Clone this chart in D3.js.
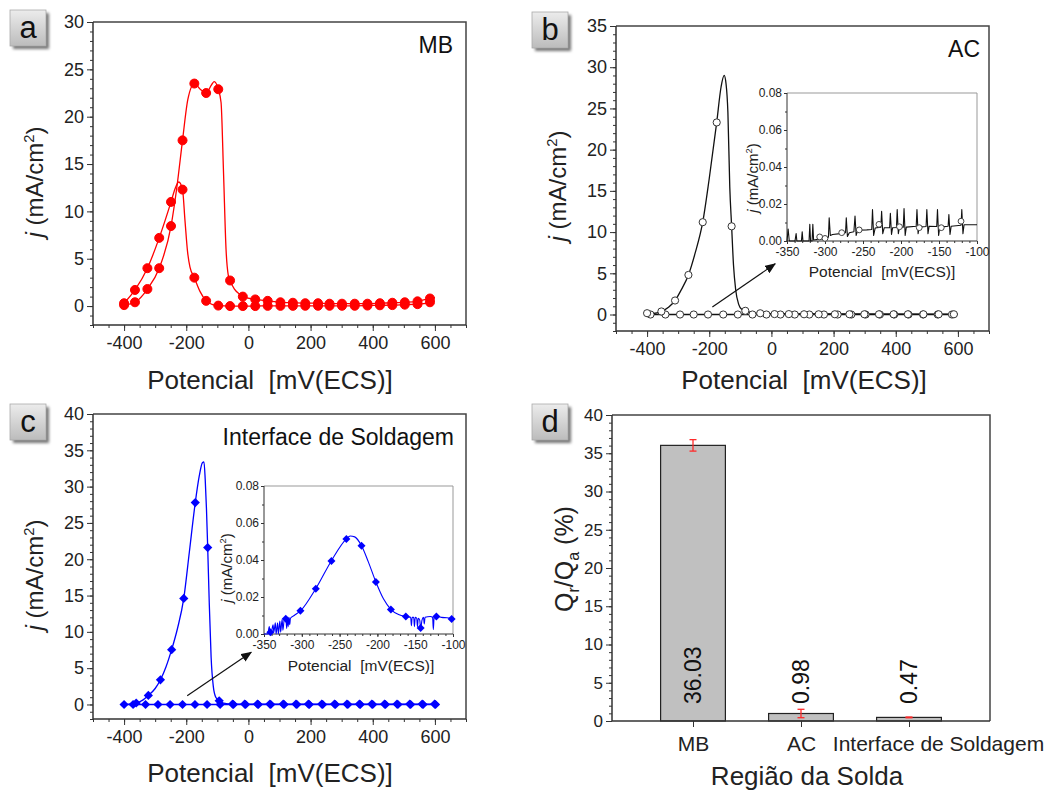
<!DOCTYPE html>
<html>
<head>
<meta charset="utf-8">
<script src="https://cdn.jsdelivr.net/npm/d3@7"></script>
<style>
body { margin: 0; background: #fff; }
svg { font-family: "Liberation Sans", Arial, sans-serif; }
</style>
</head>
<body>
<svg width="1051" height="793"></svg>
<script>
// values

// (a) MB - activation / reactivation loops, markers
var potA = [-400, -365, -325, -287, -249, -212, -174, -136, -97, -59, -18, 22, 62, 103, 143, 183, 224, 261, 301, 342, 383, 423, 463, 503, 544, 584];
var jActA = [0.1, 0.4, 1.8, 4.0, 8.45, 17.5, 23.5, 22.5, 22.9, 2.7, 1.0, 0.7, 0.55, 0.4, 0.35, 0.3, 0.3, 0.25, 0.25, 0.25, 0.25, 0.3, 0.35, 0.4, 0.5, 0.8];
var jReaA = [0.3, 1.7, 4.0, 7.2, 11.0, 12.3, 3.0, 0.55, 0.05, 0.0, 0.0, 0.0, 0.02, 0.02, 0.02, 0.03, 0.03, 0.03, 0.03, 0.03, 0.05, 0.08, 0.1, 0.15, 0.2, 0.4];
// (a) traced curves
var potLineActA = [-400, -365, -325, -287, -249, -230, -212, -195, -174, -155, -136, -118, -110, -97, -88, -80, -72, -65, -59, -45, -30, -18, 22, 62, 103, 143, 183, 224, 261, 301, 342, 383, 423, 463, 503, 544, 584, 600];
var jLineActA = [0.1, 0.4, 1.8, 4.0, 8.45, 12.6, 17.5, 21.8, 23.5, 22.9, 22.5, 23.4, 23.7, 22.9, 21.5, 14, 6, 3.3, 2.7, 1.8, 1.3, 1.0, 0.7, 0.55, 0.4, 0.35, 0.3, 0.3, 0.25, 0.25, 0.25, 0.25, 0.3, 0.35, 0.4, 0.5, 0.8, 0.9];
var potLineReaA = [-400, -365, -325, -287, -249, -236, -224, -212, -204, -196, -188, -174, -155, -136, -115, -97, -59, -18, 22, 62, 103, 143, 183, 224, 261, 301, 342, 383, 423, 463, 503, 544, 584, 600];
var jLineReaA = [0.3, 1.7, 4.0, 7.2, 11.0, 12.4, 13.1, 12.3, 9.0, 5.8, 4.1, 3.0, 1.5, 0.55, 0.15, 0.05, 0.0, 0.0, 0.0, 0.02, 0.02, 0.02, 0.03, 0.03, 0.03, 0.03, 0.03, 0.05, 0.08, 0.1, 0.15, 0.2, 0.4, 0.55];

// (b) AC
var potFwdB = [-400, -354, -310, -267, -221, -176, -128, -84, -36, 10, 56, 105, 152, 204, 251, 299, 346, 393, 439, 489, 538, 587];
var jFwdB = [0.16, 0.37, 1.7, 4.8, 11.2, 23.3, 10.7, 0.45, 0.15, 0.05, 0.05, 0.03, 0.03, 0.03, 0.03, 0.03, 0.03, 0.03, 0.03, 0.03, 0.03, 0.03];
var potRevB = [-389, -341, -294, -250, -204, -155, -108, -61, -16, 29, 75, 122, 169, 213, 257, 303, 349, 395, 441, 488, 535, 581];
var jRevB = [0, 0, 0, 0, 0, 0, 0, 0, 0, 0, 0, 0, 0, 0, 0, 0, 0, 0, 0, 0, 0, 0];
var potLineFwdB = [-400, -380, -354, -330, -310, -290, -267, -245, -221, -200, -176, -162, -152, -146, -140, -134, -128, -122, -115, -105, -95, -84, -60, -36, 600];
var jLineFwdB = [0.16, 0.12, 0.37, 0.9, 1.7, 3.0, 4.8, 7.5, 11.2, 16.5, 23.3, 27.6, 29.0, 28.0, 24.5, 15.5, 10.7, 6.0, 3.0, 1.2, 0.6, 0.45, 0.2, 0.1, 0.05];
var potLineRevB = [-395, 600];
var jLineRevB = [0, 0];
// (b) inset, zoom on -350..-100 mV
var potInsB = [-350, -348.5, -347, -339.5, -338, -337, -331, -330, -329, -321, -320, -319, -317, -316, -315, -307, -300, -295.5, -294.5, -293, -290, -280, -273, -272, -270.5, -268, -262, -260.5, -259, -257, -245, -238.5, -237.5, -236, -234, -226.5, -225.5, -224, -222, -215, -214, -212.5, -211, -206, -205, -203.5, -202, -197, -196, -194.5, -193, -180, -179, -177.5, -176, -167, -166, -164.5, -163, -153, -152, -150.5, -149, -138, -137, -135.5, -134, -121, -120, -118.5, -117, -100];
var jInsB = [0.000, 0.0065, 0.000, 0.000, 0.004, 0.000, 0.000, 0.005, 0.000, 0.000, 0.009, 0.000, 0.000, 0.009, 0.0005, 0.001, 0.0015, 0.002, 0.0125, 0.003, 0.0035, 0.004, 0.0045, 0.0125, 0.0025, 0.0045, 0.005, 0.0135, 0.003, 0.0058, 0.006, 0.0062, 0.017, 0.003, 0.007, 0.0075, 0.016, 0.004, 0.0072, 0.0072, 0.015, 0.0035, 0.0072, 0.0073, 0.017, 0.004, 0.0075, 0.0075, 0.0175, 0.003, 0.0075, 0.008, 0.017, 0.004, 0.0075, 0.0078, 0.017, 0.004, 0.008, 0.0078, 0.017, 0.003, 0.0075, 0.008, 0.0143, 0.0035, 0.008, 0.0085, 0.017, 0.004, 0.0088, 0.0088];
var potInsMarkB = [-307, -300, -278, -255, -229, -202, -176, -147, -121];
var jInsMarkB = [0.0022, 0.0014, 0.0045, 0.006, 0.009, 0.0077, 0.0072, 0.0072, 0.0107];

// (c) Interface de Soldagem
var potFwdC = [-400, -361, -322, -283, -247, -208, -171, -131, -94, -51, -12, 29, 69, 112, 153, 193, 236, 277, 317, 357, 397, 438, 478, 519, 559, 599];
var jFwdC = [0.0, 0.2, 1.25, 3.4, 7.55, 14.6, 27.8, 21.6, 0.5, 0.05, 0.05, 0.05, 0.05, 0.05, 0.05, 0.05, 0.05, 0.05, 0.05, 0.05, 0.05, 0.05, 0.05, 0.05, 0.05, 0.05];
var potRevC = [-371, -331, -291, -252, -212, -172, -133, -91, -48, -9, 32, 72, 115, 156, 196, 239, 280, 320, 360, 400, 441, 481, 522, 562, 602];
var jRevC = [0, 0, 0, 0, 0, 0, 0, 0, 0, 0, 0, 0, 0, 0, 0, 0, 0, 0, 0, 0, 0, 0, 0, 0, 0];
var potLineFwdC = [-400, -361, -340, -322, -300, -283, -265, -247, -228, -208, -190, -171, -158, -148, -143, -139, -135, -131, -126, -120, -113, -105, -94, -80, -51, 600];
var jLineFwdC = [0.0, 0.2, 0.6, 1.25, 2.2, 3.4, 5.2, 7.55, 10.5, 14.6, 21.0, 27.8, 31.5, 33.3, 33.4, 31.0, 27.0, 21.6, 14.0, 6.5, 2.5, 1.0, 0.5, 0.2, 0.05, 0.05];
var potLineRevC = [-400, 600];
var jLineRevC = [0, 0];
// (c) inset
var potInsC = [-350, -345, -343, -342, -340, -338, -337, -335, -334, -332, -331, -329, -328, -326, -325, -323, -321, -320, -319, -318, -317, -316, -315, -310, -301.5, -281.5, -261, -241, -236, -230, -221, -212, -202, -192, -182, -172, -162, -156, -155, -154, -152, -151, -150, -148, -147, -146, -144, -142.8, -141, -139, -138, -137, -130, -127, -126, -125, -122, -115, -108, -102, -100];
var jInsC = [0.000, 0.000, 0.004, 0.000, 0.0013, 0.005, 0.001, 0.006, 0.000, 0.006, 0.000, 0.007, 0.001, 0.008, 0.002, 0.0085, 0.008, 0.003, 0.009, 0.004, 0.009, 0.005, 0.0085, 0.010, 0.0126, 0.0245, 0.0395, 0.0514, 0.053, 0.0525, 0.0477, 0.039, 0.0281, 0.019, 0.0132, 0.0105, 0.0094, 0.009, 0.0045, 0.009, 0.009, 0.004, 0.009, 0.0085, 0.004, 0.0085, 0.0075, 0.003, 0.0075, 0.009, 0.0055, 0.009, 0.0095, 0.009, 0.0025, 0.009, 0.0097, 0.009, 0.0088, 0.0085, 0.0085];
var potInsMarkC = [-341.6, -321.2, -301.8, -281.5, -260.8, -241, -221, -202, -182.2, -162.4, -142.8, -122, -101.8];
var jInsMarkC = [0.0009, 0.0083, 0.0126, 0.0245, 0.0395, 0.0514, 0.0477, 0.0281, 0.0132, 0.0094, 0.0032, 0.0094, 0.0081];

// (d) Qr/Qa
var regions = ["MB", "AC", "Interface de Soldagem"];
var qRatio = [36.03, 0.98, 0.47];
var qErr = [0.75, 0.55, 0.05];

// tick values
var potTicks = [-400, -200, 0, 200, 400, 600];
var insPotTicks = [-350, -300, -250, -200, -150, -100];
var insJTicks = [0, 0.02, 0.04, 0.06, 0.08];

var svg = d3.select("svg");
var ink = "#222";

var defs = svg.append("defs");
var grad = defs.append("linearGradient").attr("id", "boxGrad")
    .attr("x1", 0).attr("y1", 0).attr("x2", 0).attr("y2", 1);
grad.append("stop").attr("offset", "0%").attr("stop-color", "#ececec");
grad.append("stop").attr("offset", "100%").attr("stop-color", "#bcbcbc");
defs.append("filter").attr("id", "blur").append("feGaussianBlur").attr("stdDeviation", 1.4);
defs.append("marker").attr("id", "arrow")
    .attr("markerUnits", "userSpaceOnUse")
    .attr("markerWidth", 11).attr("markerHeight", 9)
    .attr("refX", 10).attr("refY", 4.5).attr("orient", "auto")
    .append("path").attr("d", "M0,0 L11,4.5 L0,9 Z").attr("fill", "#111");

function range(a, b, step) {
    return d3.range(a, b + step / 2, step);
}

function makePanel(box, xDom, yDom) {
    return {
        box: box,
        x: d3.scaleLinear().domain(xDom).range([box.left, box.right]),
        y: d3.scaleLinear().domain(yDom).range([box.bottom, box.top])
    };
}

function styleAxis(g, font) {
    g.select(".domain").remove();
    g.selectAll("line").attr("stroke", "#333").attr("stroke-width", 1);
    g.selectAll("text").attr("font-size", font).attr("fill", ink)
        .attr("font-family", "Liberation Sans, Arial, sans-serif");
}

function drawAxes(p, o) {
    var b = p.box, g;
    if (o.bg) {
        svg.append("rect").attr("x", b.left).attr("y", b.top)
            .attr("width", b.right - b.left).attr("height", b.bottom - b.top)
            .attr("fill", "#fff");
    }
    g = svg.append("g").attr("transform", "translate(0," + b.bottom + ")")
        .call(d3.axisBottom(p.x).tickValues(o.xMinor).tickSize(o.minor).tickFormat(""));
    styleAxis(g, o.font);
    g = svg.append("g").attr("transform", "translate(0," + b.bottom + ")")
        .call(d3.axisBottom(p.x).tickValues(o.xMajor).tickSize(o.major)
            .tickPadding(o.xPad).tickFormat(o.xFmt));
    styleAxis(g, o.xFont || o.font);
    g = svg.append("g").attr("transform", "translate(" + b.left + ",0)")
        .call(d3.axisLeft(p.y).tickValues(o.yMinor).tickSize(o.minor).tickFormat(""));
    styleAxis(g, o.font);
    g = svg.append("g").attr("transform", "translate(" + b.left + ",0)")
        .call(d3.axisLeft(p.y).tickValues(o.yMajor).tickSize(o.major)
            .tickPadding(o.yPad).tickFormat(o.yFmt));
    styleAxis(g, o.font);
    return g;
}

function drawFrame(p, w, topColor) {
    var b = p.box;
    svg.append("path")
        .attr("d", "M" + b.left + "," + b.top + "H" + b.right + "V" + b.bottom)
        .attr("fill", "none").attr("stroke", topColor).attr("stroke-width", w);
    svg.append("path")
        .attr("d", "M" + b.left + "," + b.top + "V" + b.bottom + "H" + b.right)
        .attr("fill", "none").attr("stroke", "#333").attr("stroke-width", w);
}

function drawLine(p, xs, ys, color, w, curve) {
    svg.append("path")
        .datum(d3.zip(xs, ys))
        .attr("fill", "none").attr("stroke", color).attr("stroke-width", w)
        .attr("stroke-linejoin", "round")
        .attr("d", d3.line()
            .x(function (d) { return p.x(d[0]); })
            .y(function (d) { return p.y(d[1]); })
            .curve(curve || d3.curveMonotoneX));
}

function drawCircles(p, xs, ys, r, fill, stroke) {
    svg.append("g").selectAll("circle")
        .data(d3.zip(xs, ys)).enter().append("circle")
        .attr("cx", function (d) { return p.x(d[0]); })
        .attr("cy", function (d) { return p.y(d[1]); })
        .attr("r", r).attr("fill", fill)
        .attr("stroke", stroke).attr("stroke-width", 1);
}

function drawDiamonds(p, xs, ys, r, color) {
    svg.append("g").selectAll("path")
        .data(d3.zip(xs, ys)).enter().append("path")
        .attr("transform", function (d) {
            return "translate(" + p.x(d[0]) + "," + p.y(d[1]) + ")";
        })
        .attr("d", "M0," + (-r) + "L" + r + ",0L0," + r + "L" + (-r) + ",0Z")
        .attr("fill", color);
}

function jTitle(x, y, size) {
    var t = svg.append("text")
        .attr("transform", "translate(" + x + "," + y + ") rotate(-90)")
        .attr("text-anchor", "middle").attr("dy", "0.35em")
        .attr("font-size", size).attr("fill", ink);
    t.append("tspan").attr("font-style", "italic").text("j");
    t.append("tspan").text(" (mA/cm");
    t.append("tspan").attr("font-size", size * 0.62).attr("dy", -size * 0.4).text("2");
    t.append("tspan").attr("dy", size * 0.4).text(")");
}

function xTitle(x, y, size) {
    svg.append("text").attr("x", x).attr("y", y)
        .attr("text-anchor", "middle").attr("font-size", size).attr("fill", ink)
        .style("white-space", "pre")
        .text("Potencial  [mV(ECS)]");
}

function letterBox(x, y, letter) {
    svg.append("rect").attr("x", x + 3).attr("y", y + 3).attr("width", 36).attr("height", 36)
        .attr("fill", "#777").attr("filter", "url(#blur)");
    svg.append("rect").attr("x", x).attr("y", y).attr("width", 36).attr("height", 36)
        .attr("fill", "url(#boxGrad)").attr("stroke", "#aaa").attr("stroke-width", 0.8);
    svg.append("text").attr("x", x + 18).attr("y", y + 28)
        .attr("text-anchor", "middle").attr("font-size", 31).attr("fill", "#111")
        .text(letter);
}

function intFmt(d) { return String(d); }
function fix2(d) { return d.toFixed(2); }

var mainOpts = {
    xMajor: potTicks, xMinor: range(-500, 700, 50),
    major: 6, minor: 3, font: 18, xPad: 5, yPad: 3,
    xFmt: intFmt, yFmt: intFmt
};
var insOpts = {
    xMajor: insPotTicks, xMinor: range(-350, -100, 10),
    yMajor: insJTicks, yMinor: range(0, 0.08, 0.01),
    major: 3, minor: 2, font: 12, xPad: 3, yPad: 2,
    xFmt: intFmt, yFmt: fix2, bg: true
};

// ---------- panel a ----------
var pa = makePanel({left: 93, top: 22, right: 466, bottom: 325}, [-500, 700], [-2, 30]);
drawAxes(pa, Object.assign({}, mainOpts, {yMajor: range(0, 30, 5), yMinor: range(-2, 30, 1)}));
drawFrame(pa, 1.5, "#444");
drawLine(pa, potLineActA, jLineActA, "#ff0000", 1.3);
drawLine(pa, potLineReaA, jLineReaA, "#ff0000", 1.3);
drawCircles(pa, potA, jActA, 4.5, "#ff0000", "#ff0000");
drawCircles(pa, potA, jReaA, 4.5, "#ff0000", "#ff0000");
svg.append("text").attr("x", 453).attr("y", 53).attr("text-anchor", "end")
    .attr("font-size", 23).attr("fill", "#111").text("MB");
jTitle(35, 182, 24);
xTitle(270, 389, 26);
letterBox(10, 10, "a");

// ---------- panel b ----------
var pb = makePanel({left: 616, top: 26, right: 989, bottom: 331}, [-500, 700], [-2, 35]);
drawAxes(pb, Object.assign({}, mainOpts, {yMajor: range(0, 35, 5), yMinor: range(-2, 35, 1)}));
drawFrame(pb, 1.5, "#444");
drawLine(pb, potLineRevB, jLineRevB, "#111", 1.3);
drawLine(pb, potLineFwdB, jLineFwdB, "#111", 1.3);
drawCircles(pb, potRevB, jRevB, 3.6, "#fff", "#333");
drawCircles(pb, potFwdB, jFwdB, 3.6, "#fff", "#333");
svg.append("line")
    .attr("x1", pb.x(-190)).attr("y1", pb.y(0.9))
    .attr("x2", pb.x(12)).attr("y2", pb.y(6.15))
    .attr("stroke", "#111").attr("stroke-width", 1.2).attr("marker-end", "url(#arrow)");
svg.append("text").attr("x", 980).attr("y", 57).attr("text-anchor", "end")
    .attr("font-size", 23).attr("fill", "#111").text("AC");
jTitle(558, 186, 24);
xTitle(804, 389, 26);
letterBox(532, 12, "b");

var ib = makePanel({left: 787, top: 93, right: 977, bottom: 241}, [-350, -100], [0, 0.08]);
drawAxes(ib, insOpts);
drawFrame(ib, 1, "#999");
drawLine(ib, potInsB, jInsB, "#111", 1.1, d3.curveLinear);
drawCircles(ib, potInsMarkB, jInsMarkB, 2.9, "#fff", "#444");
jTitle(753, 178, 15);
xTitle(882, 277, 15.5);

// ---------- panel c ----------
var pc = makePanel({left: 93, top: 414, right: 466, bottom: 719}, [-500, 700], [-2, 40]);
drawAxes(pc, Object.assign({}, mainOpts, {yMajor: range(0, 40, 5), yMinor: range(-2, 40, 1)}));
drawFrame(pc, 1.5, "#444");
drawLine(pc, potLineRevC, jLineRevC, "#0000ff", 1.3);
drawLine(pc, potLineFwdC, jLineFwdC, "#0000ff", 1.3);
drawDiamonds(pc, potRevC, jRevC, 4.6, "#0000ff");
drawDiamonds(pc, potFwdC, jFwdC, 4.6, "#0000ff");
svg.append("line")
    .attr("x1", pc.x(-197)).attr("y1", pc.y(1.2))
    .attr("x2", pc.x(9)).attr("y2", pc.y(7.2))
    .attr("stroke", "#111").attr("stroke-width", 1.2).attr("marker-end", "url(#arrow)");
svg.append("text").attr("x", 454).attr("y", 445).attr("text-anchor", "end")
    .attr("font-size", 23).attr("fill", "#111").text("Interface de Soldagem");
jTitle(35, 575, 24);
xTitle(270, 782, 26);
letterBox(10, 404, "c");

var ic = makePanel({left: 264, top: 486, right: 453, bottom: 634}, [-350, -100], [0, 0.08]);
drawAxes(ic, insOpts);
drawFrame(ic, 1, "#999");
drawLine(ic, potInsC, jInsC, "#0000ff", 1.1);
drawDiamonds(ic, potInsMarkC, jInsMarkC, 4, "#0000ff");
jTitle(227, 568, 15);
xTitle(361, 671, 15.5);

// ---------- panel d ----------
var pd = makePanel({left: 612, top: 415, right: 990, bottom: 721}, [0.25, 3.75], [0, 40]);
var idx = regions.map(function (d, i) { return i + 1; });
drawAxes(pd, {
    xMajor: idx, xMinor: [], yMajor: range(0, 40, 5), yMinor: range(0, 40, 1),
    major: 6, minor: 3, font: 17, xFont: 21, xPad: 9, yPad: 3,
    xFmt: function (d) { return regions[d - 1]; }, yFmt: intFmt
});
// the long label sits to the right of its tick in the original
svg.selectAll("text").filter(function () {
    return this.textContent === "Interface de Soldagem" && +d3.select(this).attr("font-size") === 21;
}).attr("dx", 29);

var barW = pd.x(0.6) - pd.x(0);
svg.append("g").selectAll("rect")
    .data(qRatio).enter().append("rect")
    .attr("x", function (d, i) { return pd.x(i + 1) - barW / 2; })
    .attr("y", function (d) { return pd.y(d); })
    .attr("width", barW)
    .attr("height", function (d) { return pd.y(0) - pd.y(d); })
    .attr("fill", "#c0c0c0").attr("stroke", "#222").attr("stroke-width", 1.2);

var errG = svg.append("g").attr("stroke", "#ff2a2a").attr("stroke-width", 1.3);
qRatio.forEach(function (v, i) {
    "use strict";
    var cx = pd.x(i + 1), lo = pd.y(v - qErr[i]), hi = pd.y(v + qErr[i]);
    errG.append("line").attr("x1", cx).attr("x2", cx).attr("y1", lo).attr("y2", hi);
    errG.append("line").attr("x1", cx - 3.5).attr("x2", cx + 3.5).attr("y1", lo).attr("y2", lo);
    errG.append("line").attr("x1", cx - 3.5).attr("x2", cx + 3.5).attr("y1", hi).attr("y2", hi);
});

svg.append("g").selectAll("text")
    .data(qRatio).enter().append("text")
    .attr("transform", function (d, i) {
        return "translate(" + pd.x(i + 1) + "," + (pd.y(0) - 17) + ") rotate(-90)";
    })
    .attr("dy", "0.35em").attr("font-size", 23).attr("fill", "#111")
    .text(function (d) { return d.toFixed(2); });

drawFrame(pd, 1.5, "#444");

var qt = svg.append("text")
    .attr("transform", "translate(564,559) rotate(-90)")
    .attr("text-anchor", "middle").attr("dy", "0.35em")
    .attr("font-size", 25).attr("fill", ink);
qt.append("tspan").text("Q");
qt.append("tspan").attr("font-size", 16).attr("dy", 6).text("r");
qt.append("tspan").attr("dy", -6).text("/Q");
qt.append("tspan").attr("font-size", 16).attr("dy", 6).text("a");
qt.append("tspan").attr("dy", -6).style("white-space", "pre").text(" (%)");

svg.append("text").attr("x", 807).attr("y", 785)
    .attr("text-anchor", "middle").attr("font-size", 26).attr("fill", ink)
    .text("Região da Solda");
letterBox(532, 404, "d");
</script>
</body>
</html>
